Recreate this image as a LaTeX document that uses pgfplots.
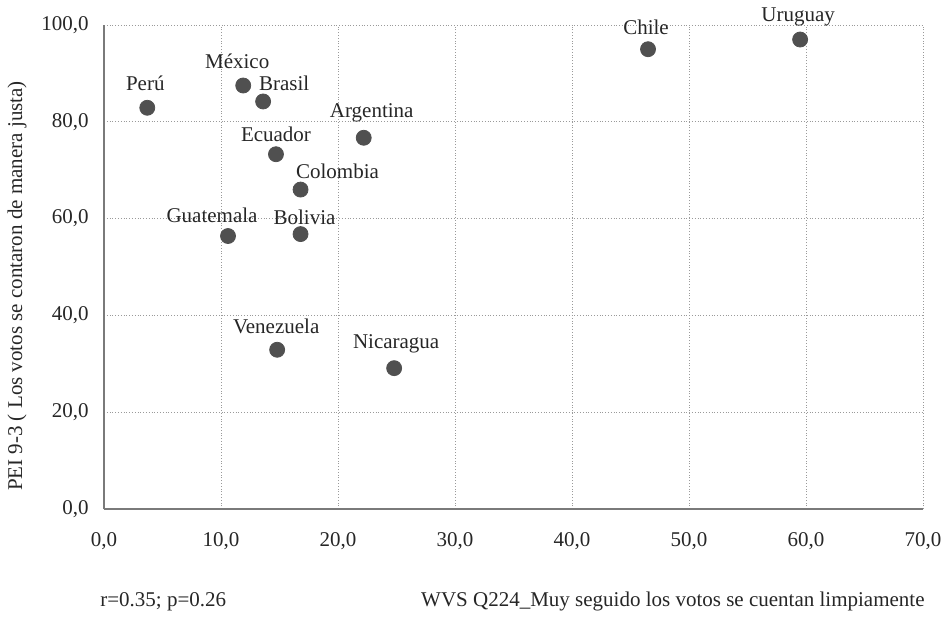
\documentclass[border=0pt]{standalone}
\usepackage{fontspec}
\setmainfont{Liberation Serif}
\usepackage{pgfplots}
\usepackage{pgfplotstable}
\pgfplotsset{compat=1.18}
\definecolor{txt}{HTML}{262626}
\definecolor{pt}{HTML}{505050}
\definecolor{axl}{HTML}{7A7A7A}
\definecolor{grd}{HTML}{9A9A9A}
\pgfplotstableread{
x y label dx dy
3.7 82.9 Perú -2 -24
11.9 87.5 México -6 -24
13.6 84.2 Brasil 21 -18
22.2 76.7 Argentina 8 -25
14.7 73.3 Ecuador 0 -20
16.8 66.0 Colombia 37 -18
10.6 56.4 Guatemala -16 -21
16.8 56.8 Bolivia 4 -17
46.5 95.0 Chile -2 -22
59.5 97.0 Uruguay -2 -23
14.8 32.9 Venezuela -1 -23
24.8 29.1 Nicaragua 2 -24
}\data
\begin{document}
\fontsize{10.5}{12.6}\selectfont
\begin{tikzpicture}
\useasboundingbox (-52pt,-54.5pt) rectangle (422.5pt,254.5pt);
\begin{axis}[
  at={(0,0)}, anchor=south west,
  scale only axis,
  width=409.5pt, height=242pt,
  xmin=0, xmax=70, ymin=0, ymax=100,
  xtick={0,10,...,70}, ytick={0,20,...,100},
  axis x line*=bottom, axis y line*=left,
  x axis line style={draw=axl, line width=1pt, -},
  y axis line style={draw=axl, line width=1pt, -},
  grid=major,
  major grid style={draw=grd, densely dotted, line width=0.4pt},
  major tick length=0pt,
  tick style={draw=none},
  ticklabel style={font=\fontsize{10.5}{12.6}\selectfont, text=txt},
  /pgf/number format/.cd, fixed, fixed zerofill, precision=1, use comma, 1000 sep={}, assume math mode=true,
  /pgfplots/.cd,
  xticklabel style={yshift=-8pt},
  yticklabel style={xshift=-4pt},
  clip=false,
]
\addplot[only marks, mark=*, mark size=3.75pt, mark options={fill=pt, draw=pt}]
  table[x=x, y=y] {\data};
\addplot[only marks, mark=none, draw=none,
  point meta=explicit symbolic,
  nodes near coords,
  nodes near coords style={anchor=center, text=txt, font=\fontsize{10.5}{12.6}\selectfont},
] table[x expr={\thisrow{x}+\thisrow{dx}/11.7}, y expr={\thisrow{y}-\thisrow{dy}/4.84}, meta=label] {\data};
\end{axis}
\node[text=txt, rotate=90, anchor=center] at (-43.5pt,111.5pt) {PEI 9-3 ( Los votos se contaron de manera justa)};
\node[text=txt, anchor=west, inner sep=0pt] at (-2pt,-46.35pt) {r=0.35; p=0.26};
\node[text=txt, anchor=east, inner sep=0pt] at (410.5pt,-46.35pt) {WVS Q224\_Muy seguido los votos se cuentan limpiamente};
\end{tikzpicture}
\end{document}
